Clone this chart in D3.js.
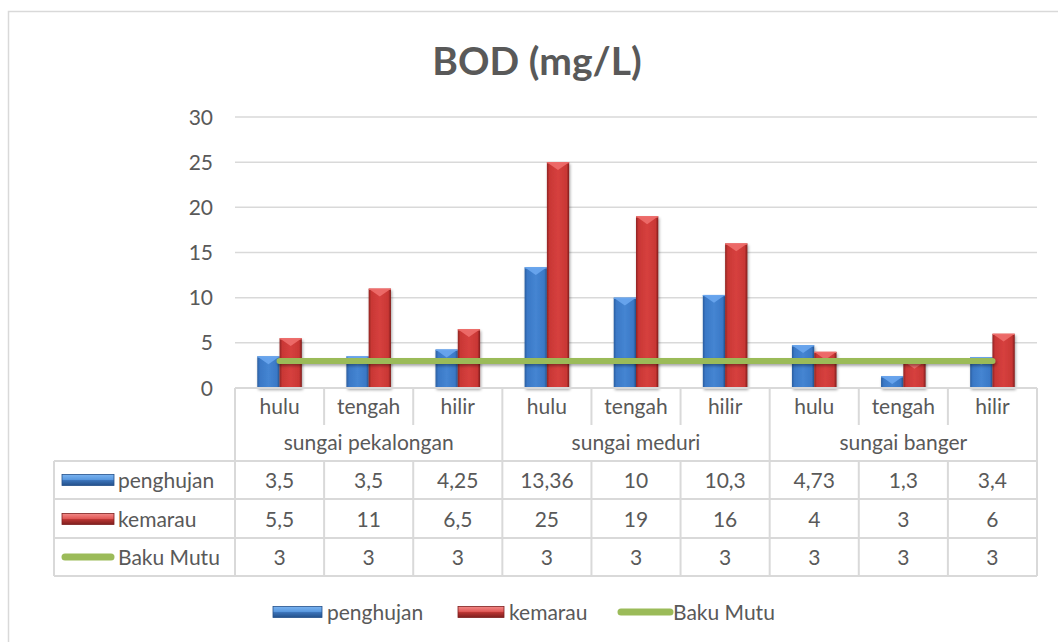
<!DOCTYPE html>
<html><head><meta charset="utf-8">
<script src="https://cdn.jsdelivr.net/npm/d3@7"></script>
<style>body{margin:0;background:#fff}svg{display:block}text{font-family:Lato,"Open Sans",sans-serif;fill:#595959}</style>
</head><body><svg id="c" width="1058" height="642"></svg>
<script>
const sites = ["hulu","tengah","hilir","hulu","tengah","hilir","hulu","tengah","hilir"];
const groups = ["sungai pekalongan","sungai meduri","sungai banger"];
const penghujan = [3.5,3.5,4.25,13.36,10,10.3,4.73,1.3,3.4];
const kemarau = [5.5,11,6.5,25,19,16,4,3,6];
const bakuMutu = [3,3,3,3,3,3,3,3,3];
const yTicks = [0,5,10,15,20,25,30];
const seriesNames = ["penghujan","kemarau","Baku Mutu"];
const fmt = v => String(v).replace(".", ",");
const FS = 21;

const svg = d3.select("#c");
const defs = svg.append("defs");
function grad(id, stops){
  const g = defs.append("linearGradient").attr("id",id).attr("x1","0").attr("x2","1").attr("y1","0").attr("y2","0");
  stops.forEach(s=>g.append("stop").attr("offset",s[0]).attr("stop-color",s[1]));
}
grad("gb",[[0,"#2a5d9f"],[0.12,"#3a78c6"],[0.5,"#4585d2"],[0.88,"#3a78c6"],[1,"#27548f"]]);
grad("gr",[[0,"#8f2422"],[0.12,"#c93735"],[0.5,"#d6403e"],[0.88,"#c93735"],[1,"#7e1c1b"]]);
function vgrad(id, stops){
  const g = defs.append("linearGradient").attr("id",id).attr("x1","0").attr("x2","0").attr("y1","0").attr("y2","1");
  stops.forEach(s=>g.append("stop").attr("offset",s[0]).attr("stop-color",s[1]));
}
vgrad("lb",[[0,"#7ab3f0"],[0.45,"#5b9ae0"],[0.55,"#3a72b8"],[1,"#23508a"]]);
vgrad("lr",[[0,"#f28a88"],[0.45,"#e15a58"],[0.55,"#b83432"],[1,"#7e1f1e"]]);
const f = defs.append("filter").attr("id","sh").attr("filterUnits","userSpaceOnUse").attr("x",0).attr("y",0).attr("width",1058).attr("height",642);
f.append("feGaussianBlur").attr("in","SourceAlpha").attr("stdDeviation",1.8).attr("result","b");
f.append("feOffset").attr("in","b").attr("dx",1).attr("dy",2).attr("result","o");
f.append("feComponentTransfer").attr("in","o").attr("result","o2").append("feFuncA").attr("type","linear").attr("slope",0.35);
const m = f.append("feMerge"); m.append("feMergeNode").attr("in","o2"); m.append("feMergeNode").attr("in","SourceGraphic");

// outer border
svg.append("rect").attr("x",8.5).attr("y",11.5).attr("width",1060).attr("height",640).attr("fill","#fff").attr("stroke","#d9d9d9").attr("stroke-width",1.5);

const L=235, R=1037, T=117, B=388;
const idx = d3.range(sites.length);
const x = d3.scaleBand().domain(idx).range([L,R]).paddingInner(0).paddingOuter(0);
const y = d3.scaleLinear().domain([0,30]).range([B,T]);
const bw = x.bandwidth()*0.25;

// title
svg.append("text").attr("x",537).attr("y",75).attr("text-anchor","middle").attr("font-size",39).attr("font-weight","bold").text("BOD (mg/L)");

// gridlines
svg.append("g").selectAll("line").data(yTicks.filter(t=>t>0)).join("line")
  .attr("x1",L).attr("x2",R).attr("y1",d=>y(d)).attr("y2",d=>y(d)).attr("stroke","#d9d9d9").attr("stroke-width",1.5);
// y labels
svg.append("g").selectAll("text").data(yTicks).join("text")
  .attr("x",213).attr("y",d=>y(d)+7.5).attr("text-anchor","end").attr("font-size",FS).text(d=>d);

// bars
function drawBar(g, x0, v, fillId, tri){
  const y0=y(v), h=B-y0;
  const gg = g.append("g").attr("filter","url(#sh)");
  gg.append("rect").attr("x",x0).attr("y",y0).attr("width",bw).attr("height",h).attr("fill",`url(#${fillId})`);
  const th = Math.min(bw*0.35, h);
  gg.append("path").attr("d",`M${x0},${y0}L${x0+bw},${y0}L${x0+bw*0.5},${y0+th}Z`).attr("fill",tri).attr("opacity",0.9);
  gg.append("rect").attr("x",x0).attr("y",y0).attr("width",bw).attr("height",1.2).attr("fill",tri);
}
const bars = svg.append("g");
idx.forEach(i=>{
  const c = x(i)+x.bandwidth()/2;
  drawBar(bars, c-bw, penghujan[i], "gb", "#6aa6ee");
  drawBar(bars, c, kemarau[i], "gr", "#ee6e6c");
});

// baku mutu line
const line = d3.line().x((d,i)=>x(i)+x.bandwidth()/2).y(d=>y(d));
svg.append("path").datum(bakuMutu).attr("d",line).attr("fill","none").attr("stroke","#9bbb59").attr("stroke-width",6).attr("stroke-linecap","round").attr("filter","url(#sh)");

// table lines
const tl = svg.append("g").attr("stroke","#d9d9d9").attr("stroke-width",2).attr("fill","none");
const rowY = [461,499,538,576];
const TL = 54;
tl.append("line").attr("x1",L).attr("x2",R).attr("y1",B).attr("y2",B);
rowY.forEach(yy=>tl.append("line").attr("x1",TL).attr("x2",R).attr("y1",yy).attr("y2",yy));
tl.append("line").attr("x1",TL).attr("x2",TL).attr("y1",461).attr("y2",576);
idx.concat([sites.length]).forEach(i=>{
  const xx = i<sites.length? x(i) : R;
  const full = (i%3===0);
  if(full){ tl.append("line").attr("x1",xx).attr("x2",xx).attr("y1",B).attr("y2",576); }
  else { tl.append("line").attr("x1",xx).attr("x2",xx).attr("y1",B).attr("y2",425);
         tl.append("line").attr("x1",xx).attr("x2",xx).attr("y1",461).attr("y2",576); }
});

// category labels
svg.append("g").selectAll("text").data(sites).join("text")
  .attr("x",(d,i)=>x(i)+x.bandwidth()/2).attr("y",413.5).attr("text-anchor","middle").attr("font-size",FS).text(d=>d);
svg.append("g").selectAll("text").data(groups).join("text")
  .attr("x",(d,i)=>(x(i*3)+ (i*3+3<sites.length? x(i*3+3):R))/2).attr("y",449.5).attr("text-anchor","middle").attr("font-size",FS).text(d=>d);

// table values
const rows = [penghujan,kemarau,bakuMutu];
const rowMid = [480,519,557];
rows.forEach((r,ri)=>{
  svg.append("g").selectAll("text").data(r).join("text")
    .attr("x",(d,i)=>x(i)+x.bandwidth()/2).attr("y",rowMid[ri]+7.5).attr("text-anchor","middle").attr("font-size",FS).text(d=>fmt(d));
});

// legend keys
function key(g, kx, ky, kind, w){
  if(kind===2){
    g.append("line").attr("x1",kx+3).attr("x2",kx+w-3).attr("y1",ky).attr("y2",ky).attr("stroke","#9bbb59").attr("stroke-width",7).attr("stroke-linecap","round");
  } else {
    g.append("rect").attr("x",kx).attr("y",ky-5.5).attr("width",w).attr("height",11).attr("fill",kind===0?"url(#lb)":"url(#lr)");
    g.append("rect").attr("x",kx).attr("y",ky-5.5).attr("width",w).attr("height",11).attr("fill","none").attr("stroke",kind===0?"#23508a":"#7e1f1e").attr("stroke-width",0.8);
  }
}
const tk = svg.append("g");
seriesNames.forEach((s,i)=>{
  key(tk, 62, rowMid[i], i, 52);
  tk.append("text").attr("x",118).attr("y",rowMid[i]+7.5).attr("font-size",FS).text(s);
});
const lg = svg.append("g");
const lx = [273,458,618];
const lw = [49,46,55];
seriesNames.forEach((s,i)=>{
  key(lg, lx[i], 612, i, lw[i]);
  lg.append("text").attr("x",lx[i]+lw[i]+(i===2?0:5)).attr("y",619.5).attr("font-size",FS).text(s);
});
</script></body></html>
